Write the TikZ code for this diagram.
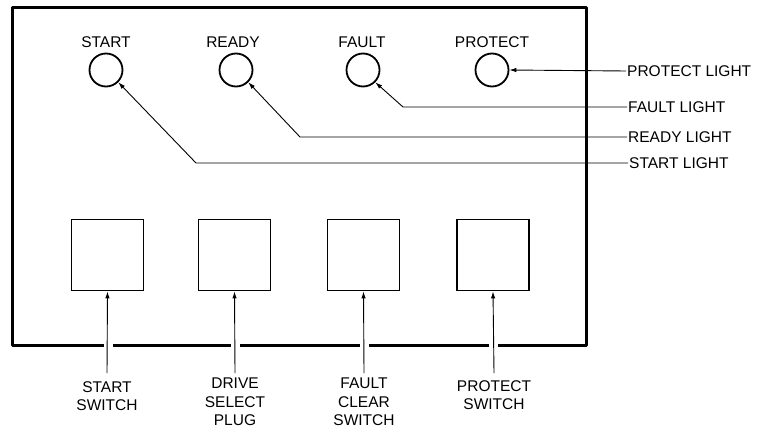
\documentclass[tikz,border=0pt]{standalone}
\usepackage{fontspec}
\setmainfont{Liberation Sans}
\usetikzlibrary{arrows.meta}
\begin{document}
\begin{tikzpicture}[x=1pt,y=-1pt,
  txt/.style={font=\fontsize{15.5}{18.5}\selectfont, inner sep=0pt, text height=11.2pt, text depth=0pt},
  rlbl/.style={txt, anchor=west, inner sep=1pt},
  blbl/.style={font=\fontsize{15.5}{18.5}\selectfont, inner sep=0pt, anchor=north, align=center},
  lamp/.style={circle, draw, line width=1.8pt, minimum size=33pt, inner sep=0pt},
  swbox/.style={draw, line width=1.8pt, minimum width=72pt, minimum height=71pt, inner sep=0pt},
  lead/.style={line width=0.9pt, -{Latex[length=7pt,width=4.5pt]}},
  panel/.style={line width=3pt, line join=round}
]
\useasboundingbox (0,0) rectangle (767,433);
% panel
\draw[panel] (12.5,7.5) rectangle (586.5,345);

% lamps
\node[lamp] (cStart) at (106,70) {};
\node[lamp] (cReady) at (236,70) {};
\node[lamp] (cFault) at (363,70) {};
\node[lamp] (cProt)  at (492,70) {};
\node[txt] (tStart) at (106,42) {START};
\node[txt] (tReady) at (233,42) {READY};
\node[txt] (tFault) at (362,42) {FAULT};
\node[txt] (tProt)  at (492,42) {PROTECT};

% right labels
\node[rlbl] (lProt)  at (626,71)  {PROTECT LIGHT};
\node[rlbl] (lFault) at (627,107) {FAULT LIGHT};
\node[rlbl] (lReady) at (627,137) {READY LIGHT};
\node[rlbl] (lStart) at (628,163) {START LIGHT};

\coordinate (kFault) at (403,107);
\coordinate (kReady) at (300,137);
\coordinate (kStart) at (196,163);

\draw[lead] (lProt.west) -- (cProt.east);
\draw[lead] (lFault.west) -- (kFault) -- (cFault.-45);
\draw[lead] (lReady.west) -- (kReady) -- (cReady.-45);
\draw[lead] (lStart.west) -- (kStart) -- (cStart.-45);

% switches
\node[swbox] (bStart) at (107.5,255) {};
\node[swbox] (bDrive) at (234.5,255) {};
\node[swbox] (bFault) at (363.5,255) {};
\node[swbox] (bProt)  at (493,255) {};

\node[blbl] (sStart) at (107,381) {START\\SWITCH};
\node[blbl] (sDrive) at (235,378) {DRIVE\\SELECT\\PLUG};
\node[blbl] (sFault) at (364,378) {FAULT\\CLEAR\\SWITCH};
\node[blbl] (sProt)  at (494,380) {PROTECT\\SWITCH};

% gaps in the bottom border where the leaders cross
\foreach \gx in {107.5,234.5,363.5,493} {
  \fill[white] (\gx-4,341) rectangle (\gx+5,349);
}

\draw[lead] (sStart.north |- 0,373) -- (bStart.south);
\draw[lead] (sDrive.north |- 0,373) -- (bDrive.south);
\draw[lead] (sFault.north |- 0,373) -- (bFault.south);
\draw[lead] (sProt.north  |- 0,373) -- (bProt.south);
\end{tikzpicture}
\end{document}
